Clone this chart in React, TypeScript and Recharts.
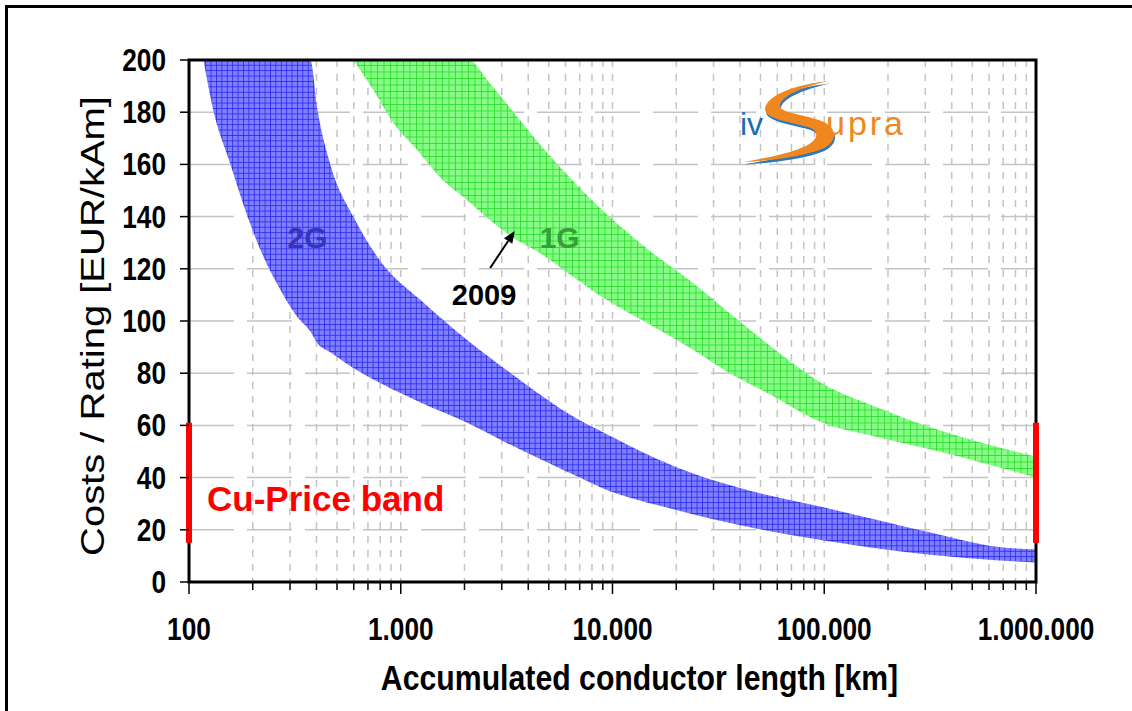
import React from "react"
import {
  ComposedChart,
  Area,
  XAxis,
  YAxis,
  CartesianGrid,
  ReferenceLine,
  ReferenceArea,
  ReferenceDot,
} from "recharts"

// 2G band (blue): conductor length [km], lower and upper cost edge [EUR/kAm]
const blueX = [117, 130, 157, 189, 225, 270, 325, 374, 404, 465, 597, 800, 1240, 2060, 3180, 7000, 8700, 20000, 44500, 98000, 325000, 670000, 1000000]
const blueLow = [200, 181, 160, 140, 124.5, 112, 101.5, 96, 91.5, 88, 82, 76.2, 68.8, 61, 53.2, 40, 36.4, 27.6, 21, 16, 10.3, 8.2, 7.5]
const blueHigh = [200, 200, 200, 200, 200, 200, 200, 200, 181, 160, 140, 123, 108, 92.7, 81, 62, 58, 44, 35, 28.7, 18.8, 13.4, 12.5]

// 1G band (green)
const greenX = [597, 742, 922, 1196, 1536, 2080, 2640, 3390, 4550, 6510, 9420, 15500, 24000, 35800, 53600, 98400, 177000, 325000, 1000000]
const greenLow = [200, 188.5, 176, 165.5, 155, 146, 138.7, 132, 126, 117, 108, 98, 89, 80, 72.5, 61, 55.6, 50.6, 40]
const greenHigh = [200, 200, 200, 200, 200, 200, 191, 180.3, 167.6, 153.6, 140.8, 126, 114.6, 103, 91.5, 76, 67, 59, 48]

// copper price band
const cuPrice = [15, 61]

const yTicks = [0, 20, 40, 60, 80, 100, 120, 140, 160, 180, 200]
const decades = [100, 1000, 10000, 100000]
const xTicks = [...decades.flatMap((d) => [1, 2, 3, 4, 5, 6, 7, 8, 9].map((m) => m * d)), 1000000]
const xLabels: Record<number, string> = {
  100: "100",
  1000: "1.000",
  10000: "10.000",
  100000: "100.000",
  1000000: "1.000.000",
}

const blueData = blueX.map((x, i) => ({ x, range: [blueLow[i], blueHigh[i]] }))
const greenData = greenX.map((x, i) => ({ x, range: [greenLow[i], greenHigh[i]] }))

const FONT = "'Liberation Sans', Arial, sans-serif"

function XTick(props: any) {
  const { x, y, payload } = props
  const label = xLabels[payload.value]
  return (
    <g>
      <line x1={x} x2={x} y1={y} y2={y + (label ? 12 : 8)} stroke="#000" strokeWidth={1.5} />
      {label && (
        <text
          transform={`translate(${x},${y + 58}) scale(0.82,1)`}
          textAnchor="middle"
          fontFamily={FONT}
          fontSize={32}
          fontWeight="bold"
          fill="#000"
        >
          {label}
        </text>
      )}
    </g>
  )
}

function YTick(props: any) {
  const { x, y, payload } = props
  return (
    <g>
      <line x1={x - 9} x2={x} y1={y} y2={y} stroke="#000" strokeWidth={1.5} />
      <text
        transform={`translate(${x - 23},${y + 11}) scale(0.82,1)`}
        textAnchor="end"
        fontFamily={FONT}
        fontSize={32}
        fontWeight="bold"
        fill="#000"
      >
        {payload.value}
      </text>
    </g>
  )
}

function Arrow(props: any) {
  const { x1, y1, x2, y2 } = props
  const ang = Math.atan2(y2 - y1, x2 - x1)
  const bx = x2 - 12 * Math.cos(ang)
  const by = y2 - 12 * Math.sin(ang)
  const s = Math.sin(ang) * 5
  const c = Math.cos(ang) * 5
  return (
    <g>
      <line x1={x1} y1={y1} x2={bx} y2={by} stroke="#000" strokeWidth={2} />
      <polygon points={`${x2},${y2} ${bx + s},${by - c} ${bx - s},${by + c}`} fill="#000" />
    </g>
  )
}

// the S swoosh of the logo, as a filled outline
const swoosh =
  "M829 81 C797 84 766 95 765 109 C765 119 790 122 808 127 C821 131 819 141 801 148 C784 155 760 159 743 162 " +
  "C766 161 802 157 822 149 C838 142 839 127 819 120 C801 114 779 113 780 105 C782 95 806 86 829 81 Z"

function Logo() {
  return (
    <svg width={1132} height={711} style={{ position: "absolute", left: 0, top: 0, pointerEvents: "none" }}>
      <text x={740} y={135} fontFamily={FONT} fontSize={32} fill="#1b6db3">
        iv
      </text>
      <path d={swoosh} fill="#2a78c0" transform="translate(1,2.5)" />
      <path d={swoosh} fill="#f0871e" />
      <text x={826} y={135} fontFamily={FONT} fontSize={34} fill="#f0871e" textLength={77}>
        upra
      </text>
    </svg>
  )
}

export default function App() {
  return (
    <div style={{ position: "absolute", left: 0, top: 0, width: 1132, height: 711, background: "#fff", overflow: "hidden" }}>
      <div
        style={{
          position: "absolute",
          left: 5,
          top: 5,
          width: 1300,
          height: 900,
          borderLeft: "3px solid #000",
          borderTop: "3px solid #000",
        }}
      />
      <ComposedChart width={1132} height={711} margin={{ top: 60, right: 96, left: 89, bottom: 29 }}>
        <defs>
          <pattern id="hatchBlue" patternUnits="userSpaceOnUse" width={5.4} height={5.4}>
            <rect width={5.4} height={5.4} fill="#7e7eff" />
            <path d="M0 0.4 H5.4 M0.4 0 V5.4" stroke="#2b2bf0" strokeWidth={0.9} />
          </pattern>
          <pattern id="hatchGreen" patternUnits="userSpaceOnUse" width={6.5} height={6.5}>
            <rect width={6.5} height={6.5} fill="#86fc86" />
            <path d="M0 0.4 H6.5 M0.4 0 V6.5" stroke="#2bdc2b" strokeWidth={0.9} />
          </pattern>
        </defs>
        <CartesianGrid horizontal={true} vertical={false} stroke="#c4c4c4" strokeWidth={1.5} strokeDasharray="45 13" />
        <CartesianGrid horizontal={false} vertical={true} stroke="#c4c4c4" strokeWidth={1.5} strokeDasharray="7 7" />
        <XAxis
          dataKey="x"
          type="number"
          scale="log"
          domain={[100, 1000000]}
          allowDataOverflow
          ticks={xTicks}
          interval={0}
          tick={XTick}
          tickLine={false}
          axisLine={false}
          tickSize={0}
          tickMargin={0}
          height={100}
          label={{
            content: (p: any) => (
              <text
                transform={`translate(${p.viewBox.x + p.viewBox.width / 2 + 27},690) scale(0.84,1)`}
                textAnchor="middle"
                fontFamily={FONT}
                fontSize={36}
                fontWeight="bold"
                fill="#000"
              >
                Accumulated conductor length [km]
              </text>
            ),
          }}
        />
        <YAxis
          type="number"
          domain={[0, 200]}
          allowDataOverflow
          ticks={yTicks}
          interval={0}
          tick={YTick}
          tickLine={false}
          axisLine={false}
          tickSize={0}
          tickMargin={0}
          width={100}
          label={{
            content: (p: any) => (
              <text
                transform={`translate(${p.viewBox.x + 15},${p.viewBox.y + p.viewBox.height / 2 + 5}) rotate(-90) scale(1,0.85)`}
                textAnchor="middle"
                fontFamily={FONT}
                fontSize={40}
                fill="#000"
              >
                Costs / Rating [EUR/kAm]
              </text>
            ),
          }}
        />
        <Area
          data={blueData}
          dataKey="range"
          type="monotone"
          stroke="none"
          fill="url(#hatchBlue)"
          fillOpacity={1}
          dot={false}
          activeDot={false}
          isAnimationActive={false}
        />
        <Area
          data={greenData}
          dataKey="range"
          type="monotone"
          stroke="none"
          fill="url(#hatchGreen)"
          fillOpacity={1}
          dot={false}
          activeDot={false}
          isAnimationActive={false}
        />
        <ReferenceArea x1={100} x2={1000000} y1={0} y2={200} fill="none" fillOpacity={0} stroke="#000" strokeWidth={3} ifOverflow="visible" />
        <ReferenceLine
          segment={[{ x: 100, y: cuPrice[0] }, { x: 100, y: cuPrice[1] }]}
          stroke="#ff0000"
          strokeWidth={6}
          ifOverflow="visible"
        />
        <ReferenceLine
          segment={[{ x: 1000000, y: cuPrice[0] }, { x: 1000000, y: cuPrice[1] }]}
          stroke="#ff0000"
          strokeWidth={6}
          ifOverflow="visible"
        />
        <ReferenceLine segment={[{ x: 2644, y: 120.3 }, { x: 3455, y: 134.5 }]} shape={Arrow} ifOverflow="visible" />
        <ReferenceDot
          x={363}
          y={132}
          r={0}
          ifOverflow="visible"
          label={{ value: "2G", position: "center", fill: "#3535b8", fontSize: 30, fontWeight: "bold", fontFamily: FONT }}
        />
        <ReferenceDot
          x={5630}
          y={132}
          r={0}
          ifOverflow="visible"
          label={{ value: "1G", position: "center", fill: "#3c9c3c", fontSize: 30, fontWeight: "bold", fontFamily: FONT }}
        />
        <ReferenceDot
          x={2475}
          y={110}
          r={0}
          ifOverflow="visible"
          label={{ value: "2009", position: "center", fill: "#000", fontSize: 29, fontWeight: "bold", fontFamily: FONT }}
        />
        <ReferenceDot
          x={100}
          y={32}
          r={0}
          ifOverflow="visible"
          label={{ value: "Cu-Price band", position: "right", offset: 18, fill: "#ff0000", fontSize: 35, fontWeight: "bold", fontFamily: FONT }}
        />
      </ComposedChart>
      <Logo />
    </div>
  )
}
